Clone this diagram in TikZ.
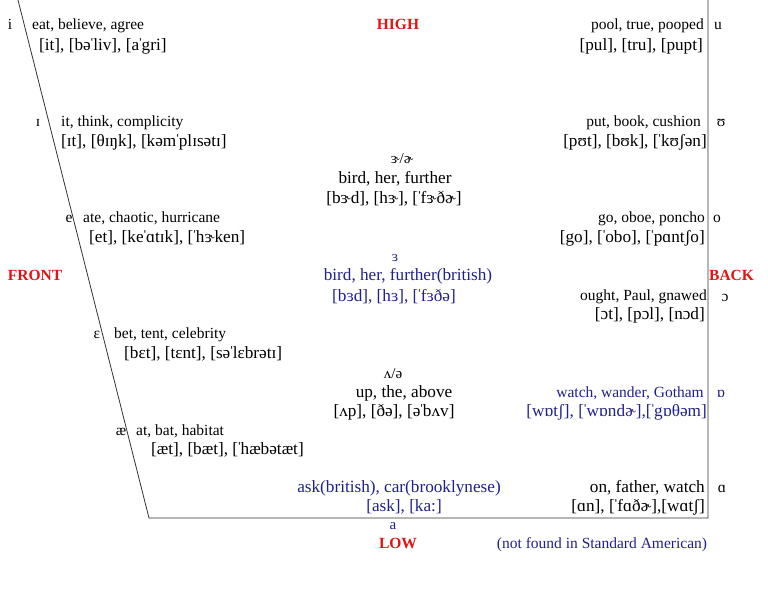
\documentclass[tikz,border=0pt]{standalone}
\usepackage{fontspec}
\setmainfont{Liberation Serif}
\usetikzlibrary{calc}
\definecolor{vred}{RGB}{228,18,18}
\definecolor{vblue}{RGB}{32,32,140}
\newcommand\strs{\kern-1.6ptˈ\kern-1.6pt}
\tikzset{
	word/.style={inner sep=0pt, text height=12.5pt, text depth=1pt, font=\fontsize{15.5}{18}\selectfont},
	ipa/.style={word, font=\fontsize{17.2}{20}\selectfont},
	small/.style={word, font=\fontsize{15}{16}\selectfont},
	side/.style={word, font=\fontsize{15.5}{18}\selectfont\bfseries, text=vred},
	chart/.style={line width=0.8pt, color=black!80}
}

\begin{document}
\begin{tikzpicture}[x=1pt, y=-1pt]
		%%%%% START %%%%%
		\useasboundingbox (0,0) rectangle (768,590);
		
		\coordinate (topleft) at (18,0);
		\coordinate (botleft) at (149,518);
		\coordinate (botright) at (708,518);
		\coordinate (topright) at (708,0);
		\draw[chart] (topleft) -- (botleft) -- (botright) -- (topright);
		
		% front vowels
		\node[word] (vi) at (10,24) {i};
		\node[word, anchor=west] (ieat) at (32,24) {eat, believe, agree};
		\node[ipa, anchor=west] (iipa) at (39,45) {[it], [bə\strs liv], [a\strs gri]};
		
		\node[word] (vI) at (38,121) {ɪ};
		\node[word, anchor=west] (Iit) at (61,121) {it, think, complicity};
		\node[ipa, anchor=west] (Iipa) at (61,141) {[ɪt], [θɪŋk], [kəm\strs plɪsətɪ]};
		
		\node[word] (ve) at (69,217) {e};
		\node[word, anchor=west] (eate) at (83,217) {ate, chaotic, hurricane};
		\node[ipa, anchor=west] (eipa) at (89,237) {[et], [ke\strs ɑtɪk], [\strs hɝken]};
		
		\node[word] (vE) at (97,333) {ɛ};
		\node[word, anchor=west] (Ebet) at (114,333) {bet, tent, celebrity};
		\node[ipa, anchor=west] (Eipa) at (124,353) {[bɛt], [tɛnt], [sə\strs lɛbrətɪ]};
		
		\node[word] (vae) at (121,430) {æ};
		\node[word, anchor=west] (aeat) at (136,430) {at, bat, habitat};
		\node[ipa, anchor=west] (aeipa) at (151,449) {[æt], [bæt], [\strs hæbətæt]};
		
		% central vowels
		\node[small] (vr) at (402,158) {ɝ/ɚ};
		\node[ipa] (rbird) at (395,178) {bird, her, further};
		\node[ipa] (ripa) at (394,198) {[bɝd], [hɝ], [\strs fɝðɚ]};
		
		\node[small, text=vblue] (v3) at (395,256) {ɜ};
		\node[ipa, text=vblue] (bird3) at (408,275) {bird, her, further(british)};
		\node[ipa, text=vblue] (ipa3) at (394,296) {[bɜd], [hɜ], [\strs fɜðə]};
		
		\node[small] (vV) at (393,373) {ʌ/ə};
		\node[ipa] (Vup) at (404,392) {up, the, above};
		\node[ipa] (Vipa) at (394,411) {[ʌp], [ðə], [ə\strs bʌv]};
		
		\node[ipa, text=vblue] (aask) at (399,487) {ask(british), car(brooklynese)};
		\node[ipa, text=vblue] (aipa) at (404,506) {[ask], [ka:]};
		\node[small, text=vblue] (va) at (393,524) {a};
		
		% back vowels
		\node[word] (vu) at (718,24) {u};
		\node[word, anchor=east] (upool) at (704,24) {pool, true, pooped};
		\node[ipa, anchor=east] (uipa) at (703,45) {[pul], [tru], [pupt]};
		
		\node[word] (vU) at (721,121) {ʊ};
		\node[word, anchor=east] (Uput) at (701,121) {put, book, cushion};
		\node[ipa, anchor=east] (Uipa) at (707,141) {[pʊt], [bʊk], [\strs kʊʃən]};
		
		\node[word] (vo) at (717,217) {o};
		\node[word, anchor=east] (ogo) at (705,217) {go, oboe, poncho};
		\node[ipa, anchor=east] (oipa) at (705,237) {[go], [\strs obo], [\strs pɑntʃo]};
		
		\node[word] (vO) at (725,296) {ɔ};
		\node[word, anchor=east] (Oought) at (707,295) {ought, Paul, gnawed};
		\node[ipa, anchor=east] (Oipa) at (705,314) {[ɔt], [pɔl], [nɔd]};
		
		\node[word, text=vblue] (vQ) at (721,392) {ɒ};
		\node[word, anchor=east, text=vblue] (Qwatch) at (704,392) {watch, wander, Gotham};
		\node[ipa, anchor=east, text=vblue] (Qipa) at (707,411) {[wɒtʃ], [\strs wɒndɚ],[\strs gɒθəm]};
		
		\node[word] (vA) at (722,487) {ɑ};
		\node[ipa, anchor=east] (Aon) at (705,487) {on, father, watch};
		\node[ipa, anchor=east] (Aipa) at (705,506) {[ɑn], [\strs fɑðɚ],[wɑtʃ]};
		
		% axis labels
		\node[side] (high) at (398,24) {HIGH};
		\node[side] (low) at (398,543) {LOW};
		\node[side] (front) at (35,275) {FRONT};
		\node[side, anchor=west] (back) at (709,275) {BACK};
		\node[word, text=vblue] (nofound) at (602,543) {(not found in Standard American)};
		
		%%%%% END %%%%%
	\end{tikzpicture}
\end{document}
